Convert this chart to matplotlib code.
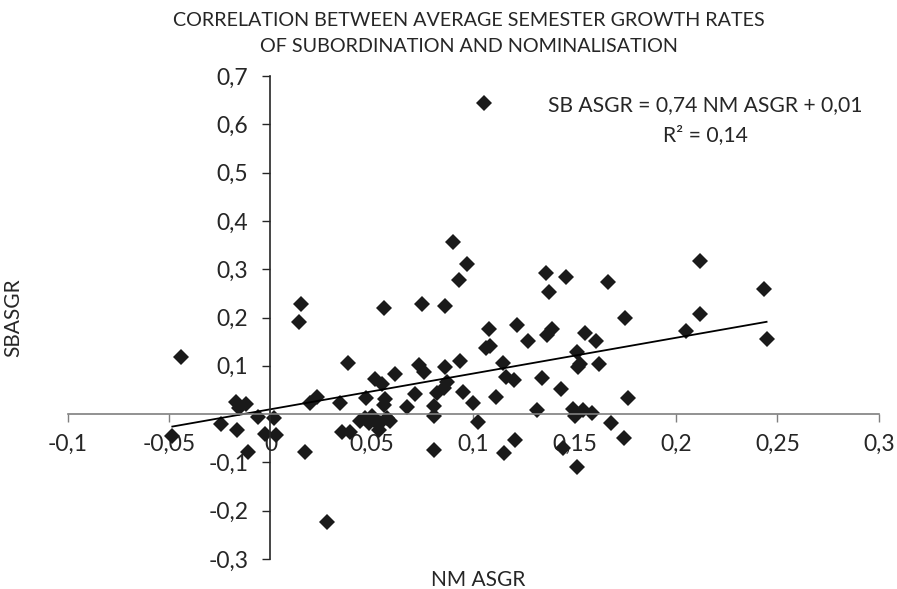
"""
Scatter: correlation between average semester growth rates (SB vs NM)
Output: out.png
"""
import matplotlib
matplotlib.use("Agg")
import matplotlib.pyplot as plt
import matplotlib.ticker as mticker

# ---- data ----
nm_asgr = [
    -0.0484, -0.0440, -0.0246, -0.0172, -0.0123, -0.0156, -0.0167, -0.0062,
    0.0016, -0.0028, 0.0025, -0.0110, 0.0172, 0.0151, 0.0140, 0.0197,
    0.0230, 0.0279, 0.0341, 0.0383, 0.0353, 0.0394, 0.0440, 0.0468,
    0.0471, 0.0484, 0.0500, 0.0517, 0.0517, 0.0534, 0.0542, 0.0550,
    0.0558, 0.0567, 0.0575, 0.0591, 0.0562, 0.0616, 0.0673, 0.0714,
    0.0731, 0.0755, 0.0747, 0.0805, 0.0805, 0.0805, 0.0821, 0.0854,
    0.0862, 0.0862, 0.0870, 0.0900, 0.0928, 0.0969, 0.0936, 0.0952,
    0.0998, 0.1026, 0.1064, 0.1084, 0.1076, 0.1145, 0.1161, 0.1202,
    0.1113, 0.1218, 0.1268, 0.1154, 0.1207, 0.1314, 0.1338, 0.1358,
    0.1374, 0.1388, 0.1363, 0.1433, 0.1445, 0.1458, 0.1494, 0.1502,
    0.1511, 0.1511, 0.1527, 0.1515, 0.1540, 0.1552, 0.1585, 0.1606,
    0.1622, 0.1663, 0.1678, 0.1744, 0.1750, 0.1765, 0.2048, 0.2118,
    0.2118, 0.2435, 0.2447, 0.1051,
]
sb_asgr = [
    -0.045, 0.119, -0.020, 0.025, 0.020, 0.012, -0.033, -0.006,
    -0.009, -0.042, -0.043, -0.078, -0.078, 0.227, 0.190, 0.022,
    0.036, -0.223, 0.022, 0.106, -0.037, -0.037, -0.014, -0.009,
    0.033, -0.019, -0.004, 0.072, -0.014, -0.033, -0.019, 0.063,
    0.019, 0.031, -0.009, -0.014, 0.220, 0.083, 0.015, 0.042,
    0.101, 0.088, 0.228, 0.017, -0.003, -0.074, 0.044, 0.055,
    0.224, 0.098, 0.067, 0.357, 0.277, 0.311, 0.110, 0.046,
    0.023, -0.017, 0.137, 0.142, 0.177, 0.105, 0.077, 0.071,
    0.036, 0.184, 0.151, -0.081, -0.053, 0.008, 0.074, 0.293,
    0.252, 0.177, 0.164, 0.053, -0.070, 0.284, 0.011, -0.004,
    0.128, -0.109, 0.103, 0.097, 0.008, 0.168, 0.002, 0.151,
    0.103, 0.273, -0.018, -0.050, 0.199, 0.034, 0.172, 0.208,
    0.317, 0.260, 0.155, 0.645,
]

# linear trendline shown on the chart
SLOPE = 0.74
INTERCEPT = 0.01

x_ticks = [-0.1, -0.05, 0, 0.05, 0.1, 0.15, 0.2, 0.25, 0.3]
y_ticks = [-0.3, -0.2, -0.1, 0.1, 0.2, 0.3, 0.4, 0.5, 0.6, 0.7]

plt.rcParams["font.family"] = ["Lato", "DejaVu Sans"]

W, H = 897, 589
fig = plt.figure(figsize=(W / 100, H / 100), dpi=100)
ax = fig.add_axes([67.7 / W, 30 / H, 811 / W, 483 / H])

ax.plot(nm_asgr, sb_asgr, linestyle="none", marker="D", markersize=8.5,
        color="#1a1a1a", markeredgewidth=0)

x0, x1 = min(nm_asgr), max(nm_asgr)
ax.plot([x0, x1], [SLOPE * x0 + INTERCEPT, SLOPE * x1 + INTERCEPT],
        color="black", linewidth=1.3)

ax.set_xlim(-0.1, 0.3)
ax.set_ylim(-0.3, 0.7)

for s in ("top", "right"):
    ax.spines[s].set_visible(False)
ax.spines["left"].set_position(("data", 0))
ax.spines["bottom"].set_position(("data", 0))
ax.spines["left"].set_color("#262626")
ax.spines["bottom"].set_color("#7f7f7f")
ax.spines["left"].set_linewidth(1.2)
ax.spines["bottom"].set_linewidth(1.2)

fmt = mticker.FuncFormatter(lambda v, p: ("%g" % round(v, 2)).replace(".", ","))
ax.set_xticks(x_ticks)
ax.set_yticks(y_ticks)
ax.xaxis.set_major_formatter(fmt)
ax.yaxis.set_major_formatter(fmt)
ax.tick_params(axis="x", direction="out", length=6, width=1, color="#7f7f7f",
               labelsize=16.5, pad=8, labelcolor="#262626")
ax.tick_params(axis="y", direction="out", length=6, width=1, color="#262626",
               labelsize=16.5, pad=10, labelcolor="#262626")

fig.text(469 / W, 1 - 20 / H, "CORRELATION BETWEEN AVERAGE SEMESTER GROWTH RATES",
         ha="center", va="center", fontsize=14.2, color="#262626")
fig.text(469 / W, 1 - 47 / H, "OF SUBORDINATION AND NOMINALISATION",
         ha="center", va="center", fontsize=14.2, color="#262626")
fig.text(478 / W, 1 - 580 / H, "NM ASGR", ha="center", va="center",
         fontsize=15, color="#262626")
fig.text(13 / W, 1 - 318 / H, "SBASGR", ha="center", va="center",
         rotation=90, fontsize=15, color="#262626")

fig.text(705 / W, 1 - 105 / H, "SB ASGR = 0,74 NM ASGR + 0,01",
         ha="center", va="center", fontsize=15.2, color="#262626")
fig.text(705 / W, 1 - 135 / H, "R² = 0,14",
         ha="center", va="center", fontsize=15.2, color="#262626")

fig.savefig("out.png", dpi=100)
